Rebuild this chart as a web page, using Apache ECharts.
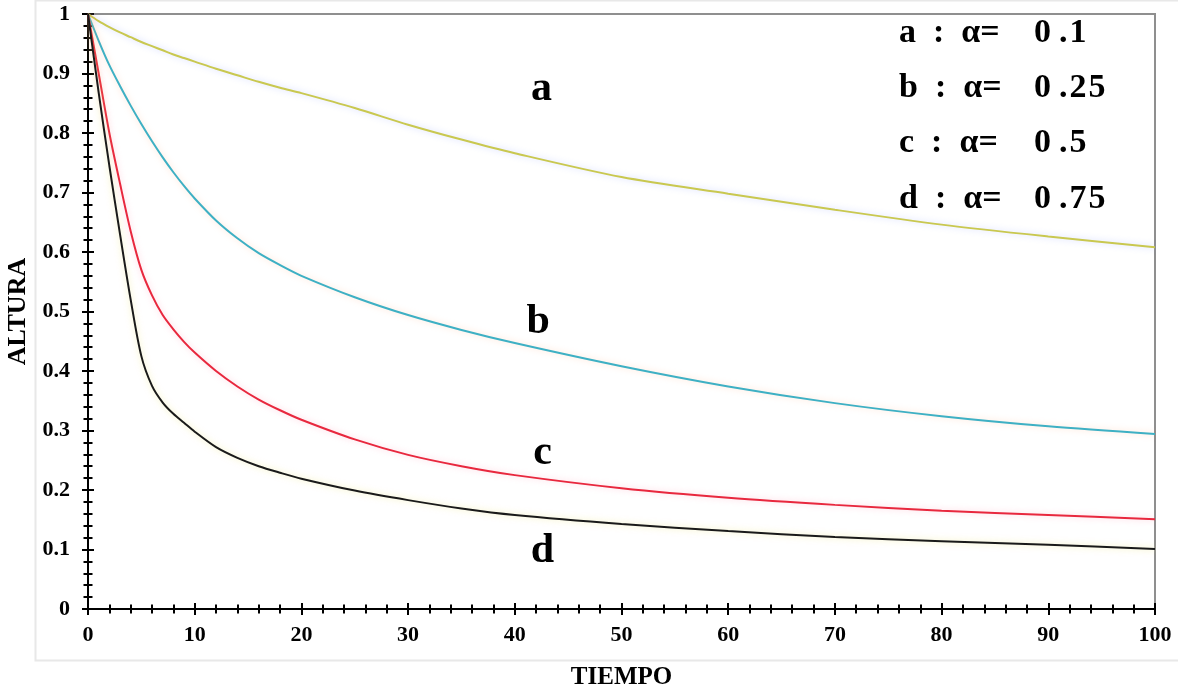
<!DOCTYPE html>
<html>
<head>
<meta charset="utf-8">
<script src="https://cdn.jsdelivr.net/npm/echarts@6/dist/echarts.min.js"></script>
<style>html,body{margin:0;padding:0;background:#fff}#c{width:1178px;height:690px}</style>
</head>
<body>
<div id="c"></div>
<script>
const tiempo = [0,1,2,3,4,5,6,7,8,9,10,12,14,16,18,20,25,30,35,40,50,60,70,80,90,100];
const serieA = [1,0.988,0.978,0.969,0.961,0.953,0.946,0.939,0.932,0.926,0.920,0.908,0.897,0.886,0.876,0.867,0.842,0.814,0.789,0.766,0.726,0.698,0.671,0.646,0.626,0.608];
const serieB = [1,0.955,0.914,0.879,0.846,0.815,0.786,0.759,0.734,0.711,0.690,0.653,0.623,0.598,0.578,0.560,0.524,0.494,0.469,0.447,0.408,0.374,0.346,0.324,0.307,0.294];
const serieC = [1,0.900,0.800,0.715,0.635,0.570,0.527,0.494,0.470,0.449,0.431,0.400,0.374,0.352,0.334,0.318,0.285,0.259,0.240,0.225,0.203,0.187,0.175,0.165,0.158,0.151];
const serieD = [1,0.868,0.745,0.630,0.520,0.425,0.375,0.347,0.328,0.313,0.298,0.272,0.254,0.240,0.229,0.219,0.199,0.183,0.169,0.158,0.143,0.131,0.121,0.114,0.108,0.101];
const curveNames = ['a','b','c','d'];
const curveLabelPos = [[42.5,0.874],[42.2,0.482],[42.6,0.262],[42.6,0.097]];
const legendNames = ['a  :  \u03b1=','b  :  \u03b1=','c  :  \u03b1=','d  :  \u03b1='];
const legendValues = ['0.1','0.25','0.5','0.75'];
const colors = ['#c9c850','#3eb0c4','#e8283e','#1a1a1a'];
const glows = ['rgba(140,160,255,0.45)','rgba(255,170,120,0.4)','rgba(255,130,160,0.4)','rgba(235,225,110,0.55)'];
const xTitle = 'TIEMPO';
const yTitle = 'ALTURA';

const serif = 'Liberation Serif';
const chart = echarts.init(document.getElementById('c'));
const allSeries = [serieA, serieB, serieC, serieD];

const series = allSeries.map((vals, i) => ({
  type: 'line',
  name: curveNames[i],
  data: tiempo.map((t, k) => [t, vals[k]]),
  smooth: 0.3,
  showSymbol: false,
  symbol: 'none',
  lineStyle: { color: colors[i], width: 2, shadowColor: glows[i], shadowBlur: 6 },
  z: 3,
  markPoint: {
    symbol: 'circle', symbolSize: 0,
    label: { show: true, formatter: curveNames[i], color: '#000', fontFamily: serif, fontWeight: 'bold', fontSize: 42, position: 'inside' },
    data: [{ coord: curveLabelPos[i] }]
  }
}));

const tickCommon = (inside) => ({
  show: true, inside: inside, length: 6,
  lineStyle: { color: '#000', width: 2 }
});
const minorCommon = { show: true, splitNumber: 5, length: 4.5, lineStyle: { color: '#000', width: 2 } };
const labelFont = { fontFamily: serif, fontWeight: 'bold', fontSize: 22, color: '#000' };

function numberRich(v) {
  const chars = v.split('');
  return chars.map((ch, k) => (k < chars.length - 1 && k < 1) ? '{p|' + ch + '}' : '{n|' + ch + '}').join('');
}

const legendGraphics = [];
legendNames.forEach((t, i) => {
  legendGraphics.push({
    type: 'text', left: 899, top: 16 + i * 55.3,
    style: { text: t, fill: '#000', font: 'bold 34px "Liberation Serif"' }, z: 10
  });
  legendGraphics.push({
    type: 'text', left: 1034, top: 16 + i * 55.3,
    style: {
      text: numberRich(legendValues[i]), fill: '#000', font: 'bold 34px "Liberation Serif"',
      rich: {
        p: { fontFamily: serif, fontWeight: 'bold', fontSize: 34, fill: '#000', padding: [0, 8, 0, 0] },
        n: { fontFamily: serif, fontWeight: 'bold', fontSize: 34, fill: '#000', padding: [0, 2, 0, 0] }
      }
    }, z: 10
  });
});

chart.setOption({
  animation: false,
  grid: { left: 88, right: 23, top: 14, bottom: 81, containLabel: false, outerBoundsMode: 'none',
    show: true, borderColor: '#8f8f8f', borderWidth: 2, backgroundColor: 'transparent' },
  xAxis: [
    {
      type: 'value', min: 0, max: 100, interval: 10,
      name: xTitle, nameLocation: 'middle', nameGap: 56,
      nameTextStyle: { fontFamily: serif, fontWeight: 'bold', fontSize: 25, color: '#000' },
      axisLine: { show: true, lineStyle: { color: '#000', width: 2 } },
      axisTick: tickCommon(false),
      minorTick: minorCommon,
      axisLabel: Object.assign({ margin: 15 }, labelFont),
      splitLine: { show: false }, minorSplitLine: { show: false }
    },
    {
      type: 'value', min: 0, max: 100, interval: 10, position: 'bottom',
      axisLine: { show: false },
      axisTick: tickCommon(true),
      minorTick: minorCommon,
      axisLabel: { show: false },
      splitLine: { show: false }
    }
  ],
  yAxis: [
    {
      type: 'value', min: 0, max: 1, interval: 0.1,
      name: yTitle, nameLocation: 'middle', nameGap: 48, nameRotate: 90,
      nameTextStyle: { fontFamily: serif, fontWeight: 'bold', fontSize: 26, color: '#000' },
      axisLine: { show: true, lineStyle: { color: '#000', width: 2 } },
      axisTick: tickCommon(false),
      minorTick: minorCommon,
      axisLabel: Object.assign({ margin: 18, formatter: v => String(Math.round(v * 10) / 10) }, labelFont),
      splitLine: { show: false }
    },
    {
      type: 'value', min: 0, max: 1, interval: 0.1, position: 'left',
      axisLine: { show: false },
      axisTick: tickCommon(true),
      minorTick: minorCommon,
      axisLabel: { show: false },
      splitLine: { show: false }
    }
  ],
  graphic: [
    { type: 'rect', left: 33, top: -2, shape: { width: 1160, height: 660 }, style: { fill: 'none', stroke: '#e8e8e8', lineWidth: 2 }, z: -1 }
  ].concat(legendGraphics),
  series: series
});
</script>
</body>
</html>
